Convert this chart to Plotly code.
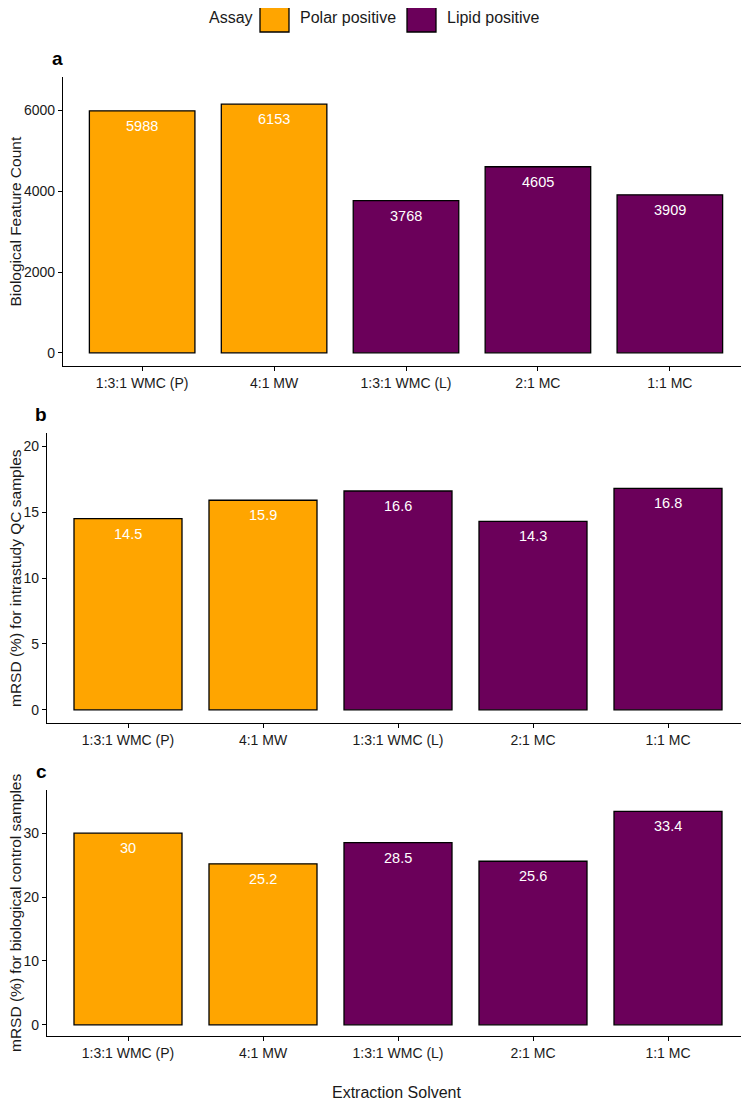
import plotly.graph_objects as go

# the page body keeps an 8px margin, so the figure is drawn 8px in from the corner
OFF = 8
W, H = 749 - OFF, 1102 - OFF

solvents = ["1:3:1 WMC (P)", "4:1 MW", "1:3:1 WMC (L)", "2:1 MC", "1:1 MC"]
assay = ["Polar positive", "Polar positive", "Lipid positive", "Lipid positive", "Lipid positive"]
feature_count = [5988, 6153, 3768, 4605, 3909]
mrsd_qc = [14.5, 15.9, 16.6, 14.3, 16.8]
mrsd_bio = [30, 25.2, 28.5, 25.6, 33.4]

assay_names = ["Polar positive", "Lipid positive"]
assay_colors = {"Polar positive": "#FFA500", "Lipid positive": "#6B005A"}

FONT = "Liberation Sans, Arial, sans-serif"


def px_x(x):
    # page pixel -> paper fraction
    return (x - OFF) / W


def px_y(y):
    return 1 - (y - OFF) / H


# panel settings: (values, y title, y range, dtick, left px, top px, bottom px, letter)
panels = [
    (feature_count, "Biological Feature Count", [-325, 6825], 2000, 63, 77, 366, "a"),
    (mrsd_qc, "mRSD (%) for intrastudy QC samples", [-1, 21], 5, 47, 433, 723, "b"),
    (mrsd_bio, "mRSD (%) for biological control samples", [-1.75, 36.75], 10, 47, 790, 1036, "c"),
]

fig = go.Figure()
annotations = []
colors = [assay_colors[a] for a in assay]

for i, (vals, ytitle, yrange, dtick, left, top, bottom, letter) in enumerate(panels):
    n = "" if i == 0 else str(i + 1)
    fig.add_trace(go.Bar(
        x=solvents, y=vals,
        xaxis="x" + n, yaxis="y" + n,
        marker=dict(color=colors, line=dict(color="black", width=1.3)),
        showlegend=False, hoverinfo="skip",
    ))
    # value labels just inside the top of each bar
    for s, v in zip(solvents, vals):
        annotations.append(dict(
            text=f"{v:g}", x=s, y=v, xref="x" + n, yref="y" + n,
            yshift=-15, showarrow=False, xanchor="center", yanchor="middle",
            font=dict(color="white", size=14.5, family=FONT),
        ))
    axis_common = dict(
        showline=True, linecolor="black", linewidth=1.3,
        ticks="outside", ticklen=4, tickwidth=1.3, tickcolor="black",
        showgrid=False, zeroline=False,
        tickfont=dict(size=14, color="#1a1a1a", family=FONT),
    )
    fig.update_layout(**{
        "xaxis" + n: dict(domain=[px_x(left), 1], anchor="y" + n,
                          range=[-0.6, 4.6], **axis_common),
        "yaxis" + n: dict(domain=[px_y(bottom), px_y(top)], anchor="x" + n,
                          range=yrange, dtick=dtick, **axis_common),
    })
    annotations.append(dict(
        text=ytitle, x=px_x(15), y=px_y((top + bottom) / 2),
        xref="paper", yref="paper", textangle=-90, showarrow=False,
        xanchor="center", yanchor="middle",
        font=dict(size=15.5, color="#1a1a1a", family=FONT),
    ))
    annotations.append(dict(
        text="<b>" + letter + "</b>", x=px_x(left - 6), y=px_y(top - 19),
        xref="paper", yref="paper", showarrow=False,
        xanchor="center", yanchor="middle",
        font=dict(size=19, color="black", family=FONT),
    ))

annotations.append(dict(
    text="Extraction Solvent", x=px_x(397), y=px_y(1092),
    xref="paper", yref="paper", showarrow=False,
    xanchor="center", yanchor="middle",
    font=dict(size=16, color="#1a1a1a", family=FONT),
))

# legend drawn by hand (ggplot-style key boxes)
shapes = []
annotations.append(dict(
    text="Assay", x=px_x(207), y=px_y(18), xref="paper", yref="paper",
    showarrow=False, xanchor="left", yanchor="middle",
    font=dict(size=16, color="#1a1a1a", family=FONT),
))
key_left = [260, 407]
for name, kx in zip(assay_names, key_left):
    shapes.append(dict(
        type="rect", xref="paper", yref="paper",
        x0=px_x(kx), x1=px_x(kx + 29), y0=px_y(32), y1=px_y(3),
        fillcolor=assay_colors[name], line=dict(color="black", width=1.3),
    ))
    annotations.append(dict(
        text=name, x=px_x(kx + 38), y=px_y(18), xref="paper", yref="paper",
        showarrow=False, xanchor="left", yanchor="middle",
        font=dict(size=16, color="#1a1a1a", family=FONT),
    ))

fig.update_layout(
    width=W, height=H,
    margin=dict(l=0, r=0, t=0, b=0),
    paper_bgcolor="white", plot_bgcolor="white",
    bargap=0.2,
    annotations=annotations, shapes=shapes,
    font=dict(family=FONT),
)

fig.write_html("out.html")
